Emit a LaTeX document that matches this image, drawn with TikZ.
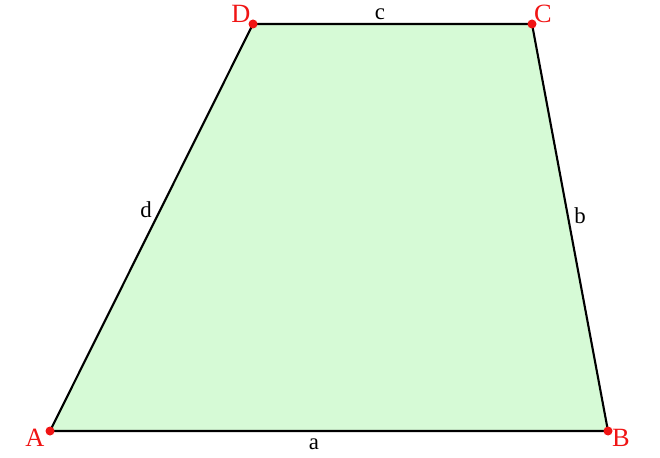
\documentclass[tikz,border=0pt]{standalone}
\usepackage{fontspec}
\setmainfont{Liberation Serif}
\usepackage{tikz}
\usetikzlibrary{positioning}
\definecolor{trapfill}{RGB}{214,250,214}
\definecolor{ptred}{RGB}{240,20,20}
\tikzset{vlabel/.style={text=ptred,font=\fontsize{15}{15}\selectfont,inner sep=1pt}}
\tikzset{slabel/.style={font=\fontsize{13}{13}\selectfont,inner sep=1pt}}

\begin{document}
\begin{tikzpicture}[x=0.02cm,y=0.02cm]
  \useasboundingbox (0,0) rectangle (660,457);
  \coordinate (A) at (50,26);
  \coordinate (B) at (608,26);
  \coordinate (C) at (532,433);
  \coordinate (D) at (253,433);

  \fill[trapfill] (A)--(B)--(C)--(D)--cycle;
  \draw[line width=1.2pt] (A)--(B)--(C)--(D)--cycle;

  \foreach \p in {A,B,C,D}{
               \fill[ptred] (\p) circle (4.5);
};
  \node[vlabel] (lA) at (35,19) {A};
  \node[vlabel] (lB) at (621,19) {B};
  \node[vlabel] (lC) at (543,443) {C};
  \node[vlabel] (lD) at (241,443) {D};

  \node[slabel] (la) at (314,13) {a};
  \node[slabel] (lb) at (580,241) {b};
  \node[slabel] (lc) at (380,443) {c};
  \node[slabel] (ld) at (146,247) {d};
\end{tikzpicture}
\end{document}
